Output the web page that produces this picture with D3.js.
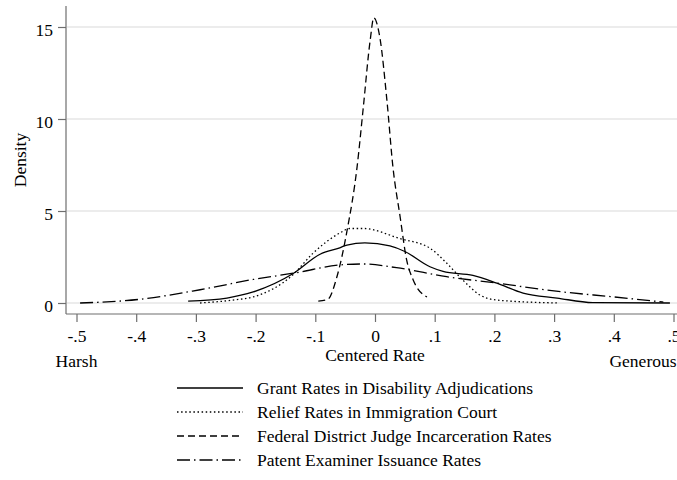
<!DOCTYPE html>
<html>
<head>
<meta charset="utf-8">
<script src="https://cdn.jsdelivr.net/npm/d3@7"></script>
<style>
  html, body { margin: 0; padding: 0; background: #fff; }
  svg { display: block; font-family: "Liberation Serif", "Times New Roman", serif; }
</style>
</head>
<body>
<svg id="chart" width="677" height="480"></svg>
<script>
// Kernel density estimates of centered decision rates, four adjudication systems
const disabilityX = [-0.313, -0.248, -0.204, -0.137, -0.092, -0.059, -0.047, -0.017, 0.025, 0.05, 0.092, 0.114, 0.164, 0.204, 0.248, 0.305, 0.365, 0.494];
const disabilityY = [0.10, 0.27, 0.60, 1.60, 2.65, 3.00, 3.15, 3.27, 3.10, 2.80, 1.97, 1.72, 1.50, 1.08, 0.54, 0.27, 0.02, 0.00];

const immigrationX = [-0.293, -0.238, -0.204, -0.137, -0.104, -0.059, -0.042, -0.020, 0.042, 0.092, 0.120, 0.147, 0.176, 0.204, 0.307];
const immigrationY = [0.00, 0.16, 0.33, 1.55, 2.70, 3.80, 4.05, 4.05, 3.50, 2.98, 2.17, 1.25, 0.43, 0.16, 0.00];

const federalX = [-0.095, -0.079, -0.064, -0.047, -0.030, -0.020, -0.008, -0.002, 0.008, 0.020, 0.030, 0.042, 0.053, 0.064, 0.087];
const federalY = [0.10, 0.20, 1.40, 3.90, 7.40, 10.50, 14.30, 15.50, 14.46, 11.00, 7.40, 4.70, 2.34, 1.25, 0.33];

const patentX = [-0.494, -0.394, -0.293, -0.204, -0.131, -0.059, -0.020, 0.036, 0.120, 0.204, 0.315, 0.400, 0.483];
const patentY = [0.00, 0.20, 0.72, 1.28, 1.65, 2.07, 2.12, 1.92, 1.43, 1.08, 0.60, 0.33, 0.05];

const seriesNames = [
  "Grant Rates in Disability Adjudications",
  "Relief Rates in Immigration Court",
  "Federal District Judge Incarceration Rates",
  "Patent Examiner Issuance Rates"
];

const xTicks = [-0.5, -0.4, -0.3, -0.2, -0.1, 0, 0.1, 0.2, 0.3, 0.4, 0.5];
const xTickLabels = ["-.5", "-.4", "-.3", "-.2", "-.1", "0", ".1", ".2", ".3", ".4", ".5"];
const yTicks = [0, 5, 10, 15];

const series = [
  { name: seriesNames[0], xs: disabilityX, ys: disabilityY, dash: null },
  { name: seriesNames[1], xs: immigrationX, ys: immigrationY, dash: "1.5,2.6" },
  { name: seriesNames[2], xs: federalX, ys: federalY, dash: "7,4" },
  { name: seriesNames[3], xs: patentX, ys: patentY, dash: "13,4,1.5,4" }
];

const FONT = "Liberation Serif, Times New Roman, serif";
const FS = 17.5;

const svg = d3.select("#chart");
const plotLeft = 66, plotRight = 677, plotTop = 6, plotBottom = 314;

const x = d3.scaleLinear().domain([-0.5, 0.5]).range([76.5, 673.5]);
const y = d3.scaleLinear().domain([0, 15]).range([303, 27]);

// horizontal grid lines
svg.append("g")
  .selectAll("line")
  .data(yTicks)
  .join("line")
  .attr("x1", plotLeft + 1).attr("x2", plotRight)
  .attr("y1", d => y(d)).attr("y2", d => y(d))
  .attr("stroke", "#e6e6e6")
  .attr("stroke-width", 1.4);

// y axis
const yAxis = svg.append("g")
  .attr("transform", `translate(${plotLeft},0)`)
  .call(d3.axisLeft(y).tickValues(yTicks).tickSize(8).tickPadding(5).tickFormat(d3.format("d")));
yAxis.select(".domain").remove();
yAxis.append("line").attr("x1", 0).attr("x2", 0).attr("y1", plotTop).attr("y2", plotBottom);
yAxis.selectAll("line").attr("stroke", "#6e6e6e").attr("stroke-width", 1.2);
yAxis.selectAll("text").attr("fill", "#000").attr("font-size", FS)
  .attr("font-family", FONT).attr("dy", "0.46em");

// x axis
const xAxis = svg.append("g")
  .attr("transform", `translate(0,${plotBottom})`)
  .call(d3.axisBottom(x).tickValues(xTicks).tickSize(8)
    .tickFormat((d, i) => xTickLabels[i]));
xAxis.select(".domain").remove();
xAxis.append("line").attr("x1", plotLeft).attr("x2", plotRight).attr("y1", 0).attr("y2", 0);
xAxis.selectAll("line").attr("stroke", "#6e6e6e").attr("stroke-width", 1.2);
xAxis.selectAll("text").attr("fill", "#000").attr("font-size", FS)
  .attr("font-family", FONT).attr("y", 28).attr("dy", null);

// axis titles
svg.append("text")
  .attr("transform", "translate(26,160) rotate(-90)")
  .attr("text-anchor", "middle")
  .attr("font-size", FS)
  .text("Density");

svg.append("text")
  .attr("x", x(0)).attr("y", 361)
  .attr("text-anchor", "middle")
  .attr("font-size", FS)
  .text("Centered Rate");

svg.append("text")
  .attr("x", x(-0.5)).attr("y", 367)
  .attr("text-anchor", "middle")
  .attr("font-size", FS)
  .text("Harsh");

svg.append("text")
  .attr("x", 643).attr("y", 367)
  .attr("text-anchor", "middle")
  .attr("font-size", FS)
  .text("Generous");

// density curves
const line = d3.line()
  .x(d => x(d[0]))
  .y(d => y(d[1]))
  .curve(d3.curveMonotoneX);

svg.append("g")
  .selectAll("path")
  .data(series)
  .join("path")
  .attr("d", s => line(s.xs.map((v, i) => [v, s.ys[i]])))
  .attr("fill", "none")
  .attr("stroke", "#000")
  .attr("stroke-width", 1.3)
  .attr("stroke-dasharray", s => s.dash);

// legend
const legend = svg.append("g");
const rows = legend.selectAll("g")
  .data(series)
  .join("g")
  .attr("transform", (s, i) => `translate(0,${388 + i * 24})`);
rows.append("line")
  .attr("x1", 177).attr("x2", 243)
  .attr("y1", 0).attr("y2", 0)
  .attr("stroke", "#000")
  .attr("stroke-width", 1.3)
  .attr("stroke-dasharray", s => s.dash);
rows.append("text")
  .attr("x", 257).attr("y", 6)
  .attr("font-size", FS)
  .text(s => s.name);
</script>
</body>
</html>
